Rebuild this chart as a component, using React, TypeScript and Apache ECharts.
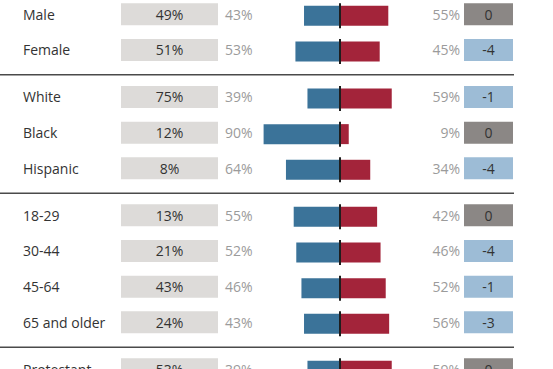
import React, { useEffect, useRef } from "react";
import * as echarts from "echarts";

// ---- data ----
const groups: string[][] = [
  ["Male", "Female"],
  ["White", "Black", "Hispanic"],
  ["18-29", "30-44", "45-64", "65 and older"],
  ["Protestant"],
];
const electorateShare = [49, 51, 75, 12, 8, 13, 21, 43, 24, 53];
const clintonShare = [43, 53, 39, 90, 64, 55, 52, 46, 43, 39];
const trumpShare = [55, 45, 59, 9, 34, 42, 46, 52, 56, 59];
const change = [0, -4, -1, 0, -4, 0, -4, -1, -3, 0];

// ---- layout derived from group structure ----
const GROUP_GAP = 0.32;
const categories = groups.flat();
const rowPos: number[] = [];
const sepPos: number[] = [];
{
  let idx = 0;
  groups.forEach((g, gi) => {
    g.forEach(() => {
      rowPos.push(idx + gi * GROUP_GAP);
      idx++;
    });
    if (gi < groups.length - 1)
      sepPos.push(rowPos[rowPos.length - 1] + (1 + GROUP_GAP) / 2 + 0.04);
  });
}

const FONT = '14px "Open Sans", "DejaVu Sans", sans-serif';
const BLUE = "#3b7399";
const RED = "#a3243a";

export default function App() {
  const ref = useRef<HTMLDivElement>(null);
  useEffect(() => {
    if (!ref.current) return;
    const chart = echarts.init(ref.current, null, { renderer: "svg" });
    const rowData = categories.map((_, i) => [
      rowPos[i],
      clintonShare[i],
      trumpShare[i],
      electorateShare[i],
      change[i],
      i,
    ]);
    chart.setOption({
      animation: false,
      backgroundColor: "#ffffff",
      grid: { left: 255, width: 172, top: 0, height: 369 },
      xAxis: { type: "value", min: -100, max: 100, show: false },
      yAxis: { type: "value", min: -0.4, max: 9.95, inverse: true, show: false },
      series: [
        {
          type: "custom",
          name: "separators",
          data: sepPos.map((p) => [0, p]),
          renderItem: (params: any, api: any) => {
            const y = api.coord([0, api.value(1)])[1];
            return {
              type: "line",
              shape: { x1: 0, y1: y, x2: 514, y2: y },
              style: { stroke: "#4a4a4a", lineWidth: 1.5 },
            };
          },
        },
        {
          type: "custom",
          name: "rows",
          data: rowData,
          renderItem: (params: any, api: any) => {
            const pos = api.value(0);
            const c = api.value(1);
            const t = api.value(2);
            const s = api.value(3);
            const ch = api.value(4);
            const i = api.value(5);
            const [zero, y] = api.coord([0, pos]);
            const left = api.coord([-c, pos])[0];
            const right = api.coord([t, pos])[0];
            return {
              type: "group",
              children: [
                {
                  type: "text",
                  style: {
                    text: categories[i],
                    x: 23,
                    y,
                    fill: "#333333",
                    font: FONT,
                    align: "left",
                    verticalAlign: "middle",
                  },
                },
                {
                  type: "rect",
                  shape: { x: 121, y: y - 11, width: 97, height: 22 },
                  style: { fill: "#dddbd9" },
                },
                {
                  type: "text",
                  style: {
                    text: s + "%",
                    x: 169.5,
                    y,
                    fill: "#333333",
                    font: FONT,
                    align: "center",
                    verticalAlign: "middle",
                  },
                },
                {
                  type: "text",
                  style: {
                    text: c + "%",
                    x: 225,
                    y,
                    fill: "#9b9b9b",
                    font: FONT,
                    align: "left",
                    verticalAlign: "middle",
                  },
                },
                {
                  type: "rect",
                  shape: { x: left, y: y - 8.5, width: zero - left, height: 20 },
                  style: { fill: BLUE },
                },
                {
                  type: "rect",
                  shape: { x: zero, y: y - 8.5, width: right - zero, height: 20 },
                  style: { fill: RED },
                },
                {
                  type: "line",
                  shape: { x1: zero - 1, y1: y - 11, x2: zero - 1, y2: y + 14 },
                  style: { stroke: "#1e1e1e", lineWidth: 2 },
                },
                {
                  type: "text",
                  style: {
                    text: t + "%",
                    x: 460,
                    y,
                    fill: "#9b9b9b",
                    font: FONT,
                    align: "right",
                    verticalAlign: "middle",
                  },
                },
                {
                  type: "rect",
                  shape: { x: 464, y: y - 11, width: 49, height: 22 },
                  style: { fill: ch === 0 ? "#8b8785" : "#9dbcd6" },
                },
                {
                  type: "text",
                  style: {
                    text: String(ch),
                    x: 488.5,
                    y,
                    fill: "#333333",
                    font: FONT,
                    align: "center",
                    verticalAlign: "middle",
                  },
                },
              ],
            };
          },
        },
      ],
    });
    return () => chart.dispose();
  }, []);
  return (
    <div
      ref={ref}
      style={{ position: "fixed", left: 0, top: 0, width: 553, height: 369 }}
    />
  );
}
